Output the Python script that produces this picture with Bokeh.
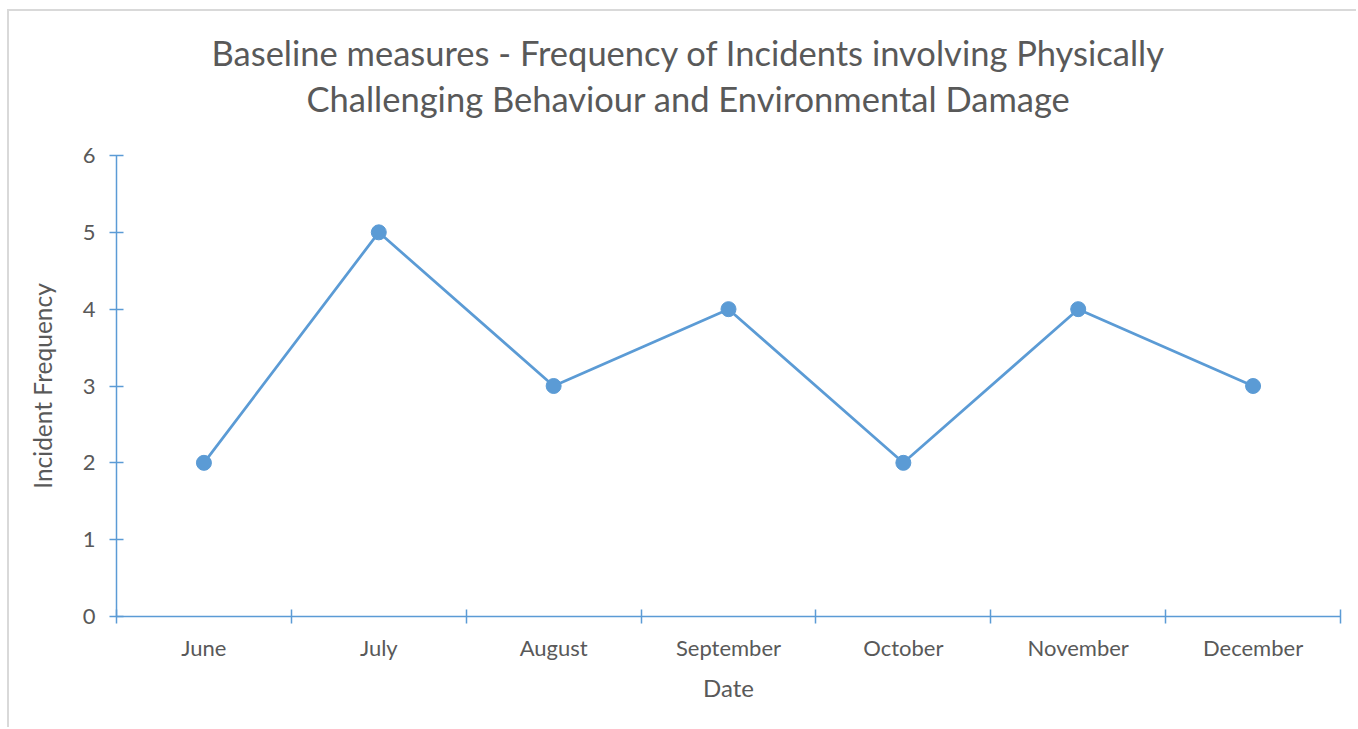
from bokeh.plotting import figure
from bokeh.models import Range1d, FixedTicker, Title, ColumnDataSource
from bokeh.embed import file_html
from bokeh.resources import INLINE

months = ["June", "July", "August", "September", "October", "November", "December"]
incidents = [2, 5, 3, 4, 2, 4, 3]
y_ticks = [0, 1, 2, 3, 4, 5, 6]
title_lines = ["Baseline measures - Frequency of Incidents involving Physically",
               "Challenging Behaviour and Environmental Damage"]
x_label = "Date"
y_label = "Incident Frequency"

BLUE = "#5B9BD5"
GREY = "#595959"
FONT = "Lato"

positions = [i + 0.5 for i in range(len(months))]
src = ColumnDataSource(dict(x=positions, y=incidents, month=months))

p = figure(width=1349, height=718, output_backend="svg", toolbar_location=None,
           x_range=Range1d(0, len(months)), y_range=Range1d(y_ticks[0], y_ticks[-1]),
           min_border_left=107, min_border_right=18, min_border_top=144,
           min_border_bottom=113, title=None)

p.line("x", "y", source=src, line_color=BLUE, line_width=2.75)
p.scatter("x", "y", source=src, size=15, fill_color=BLUE, line_color=BLUE)

p.outline_line_color = None
p.xgrid.grid_line_color = None
p.ygrid.grid_line_color = None
p.background_fill_color = "white"
p.border_fill_color = "white"

xa = p.xaxis[0]
xa.ticker = FixedTicker(ticks=positions, minor_ticks=list(range(len(months) + 1)))
xa.major_label_overrides = {pos: m for pos, m in zip(positions, months)}
xa.major_tick_in = 0
xa.major_tick_out = 0
xa.minor_tick_in = 7
xa.minor_tick_out = 7
xa.minor_tick_line_color = BLUE
xa.minor_tick_line_width = 1.5
xa.axis_line_color = BLUE
xa.axis_line_width = 1.5
xa.major_label_standoff = 10
xa.major_label_text_font = FONT
xa.major_label_text_font_size = "22px"
xa.major_label_text_color = GREY
xa.axis_label = x_label
xa.axis_label_text_font = FONT
xa.axis_label_text_font_size = "24px"
xa.axis_label_text_font_style = "normal"
xa.axis_label_text_color = GREY
xa.axis_label_standoff = 9

ya = p.yaxis[0]
ya.ticker = FixedTicker(ticks=y_ticks, minor_ticks=[])
ya.major_tick_in = 7
ya.major_tick_out = 7
ya.major_tick_line_color = BLUE
ya.major_tick_line_width = 1.5
ya.minor_tick_line_color = None
ya.axis_line_color = BLUE
ya.axis_line_width = 1.5
ya.major_label_standoff = 14
ya.major_label_text_font = FONT
ya.major_label_text_font_size = "22px"
ya.major_label_text_color = GREY
ya.axis_label = y_label
ya.axis_label_text_font = FONT
ya.axis_label_text_font_size = "24.5px"
ya.axis_label_text_font_style = "normal"
ya.axis_label_text_color = GREY
ya.axis_label_standoff = 23

# Two title lines, each centred slightly left of the plot centre (via right padding)
t2 = Title(text=title_lines[1], align="center", text_font=FONT,
           text_font_size="34.5px", text_font_style="normal", text_color=GREY,
           standoff=7, padding=dict(left=0, right=80, top=0, bottom=33))
t1 = Title(text=title_lines[0], align="center", text_font=FONT,
           text_font_size="34.5px", text_font_style="normal", text_color=GREY,
           standoff=0, padding=dict(left=0, right=80, top=0, bottom=0))
p.add_layout(t2, "above")
p.add_layout(t1, "above")

p.styles = {"border-top": "2px solid #d9d9d9", "border-left": "2px solid #d9d9d9",
            "margin-left": "7px", "margin-top": "9px"}

open("out.html", "w").write(file_html(p, INLINE))
